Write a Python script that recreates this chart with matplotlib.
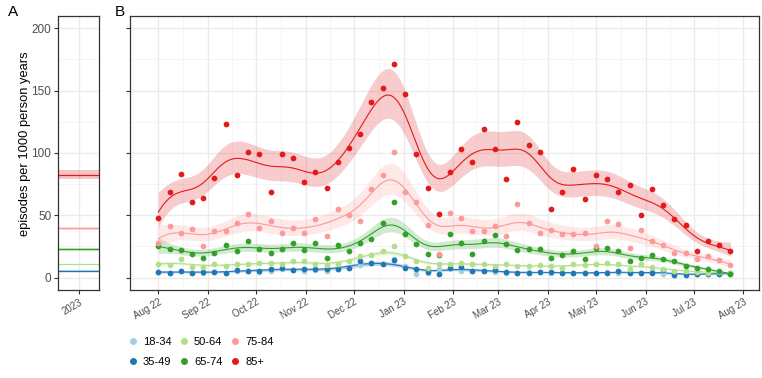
import numpy as np
import matplotlib
matplotlib.use("Agg")
import matplotlib.pyplot as plt
import matplotlib.dates as mdates
from matplotlib.lines import Line2D

plt.rcParams['font.family'] = ['Liberation Sans', 'DejaVu Sans']

# ---------------- data ----------------
groups = ["18-34", "35-49", "50-64", "65-74", "75-84", "85+"]
colors = ["#A6CEE3", "#1F78B4", "#B2DF8A", "#33A02C", "#FB9A99", "#E31A1C"]

first_week = "2022-08-01"
n_weeks = 52

rate_18_34 = [4.5, 3.5, 5, 4, 3.5, 4.5, 4, 5, 5, 4.5, 5.5, 6.5, 6, 5.5, 6, 5.5, 6.5, 7.5,
              10, 12, 11, 15, 9, 3, 3.5, 7, 7.5, 5, 5, 5.5, 4.5, 4, 4, 4.5, 4.5, 3.5,
              3.5, 3.5, 4, 4, 4.5, 4, 3.5, 4, 5, 2.5, 2.5, 2.5, 3, 3, 3, 3]
rate_35_49 = [4.5, 4, 5.3, 4, 4.3, 4.2, 4, 5.7, 5.6, 5.6, 6.5, 7.5, 6.4, 6.5, 6.5, 6.5, 7, 8,
              13.3, 11.5, 10.6, 14, 7.4, 6.6, 4.5, 3, 8, 8.3, 5.5, 5.5, 5.8, 4.2, 3.8, 3.6,
              4.5, 4.5, 4, 3.5, 3.5, 3.6, 3.8, 5.3, 4, 3.5, 4, 5.8, 2.1, 1.8, 2.6, 3, 3, 3.3]
rate_50_64 = [11, 10, 15, 8.5, 8.5, 10.5, 9, 11, 11, 11.5, 11.5, 11, 13, 13, 11, 10, 11, 13,
              17.5, 18, 21, 25, 17.5, 13, 8, 11, 11, 12, 10.5, 10.5, 9.5, 11, 9, 9, 10, 9,
              8, 10.5, 10, 11, 11.5, 10.5, 7, 10.5, 8.5, 7, 5.5, 5.5, 4.5, 4, 4.5, 3.4]
rate_65_74 = [25, 23, 22, 19, 16, 20, 26, 21, 29, 23, 20, 23, 28, 22, 28, 16, 26, 21, 28, 31,
              44, 61, 35, 27, 19, 18, 35, 28, 19, 29, 34, 27, 22, 23, 23, 16, 18, 21, 15, 24,
              24, 21, 13, 16, 18, 15, 13, 9, 8, 7, 5, 3]
rate_75_84 = [28, 41, 36, 39, 25, 37, 37, 44, 51, 40, 45, 36, 40, 36, 47, 33, 55, 50, 45, 71,
              82, 101, 69, 61, 42, 19, 52, 48, 37, 37, 41, 33, 59, 44, 36, 38, 35, 35, 36, 25,
              45, 43, 24, 38, 29, 26, 20, 20, 15, 17, 14, 10]
rate_85_plus = [48, 69, 83, 61, 64, 80, 123, 82, 101, 99, 69, 99, 96, 77, 85, 72, 93, 104,
                115, 141, 152, 171, 147, 99, 72, 51, 85, 103, 93, 119, 103, 79, 125, 106, 101,
                55, 69, 87, 63, 82, 79, 69, 74, 50, 71, 58, 47, 42, 21, 29, 26, 21]

annual_rate = [5.0, 5.4, 10.6, 22.6, 39.4, 82.6]
annual_lo = [4.6, 5.0, 10.0, 21.6, 38.0, 78.8]
annual_hi = [5.4, 5.8, 11.2, 23.6, 40.8, 86.6]
annual_label = "2023"

month_starts = ["2022-08-01", "2022-09-01", "2022-10-01", "2022-11-01", "2022-12-01",
                "2023-01-01", "2023-02-01", "2023-03-01", "2023-04-01", "2023-05-01",
                "2023-06-01", "2023-07-01", "2023-08-01"]
month_labels = ["Aug 22", "Sep 22", "Oct 22", "Nov 22", "Dec 22", "Jan 23", "Feb 23",
                "Mar 23", "Apr 23", "May 23", "Jun 23", "Jul 23", "Aug 23"]

series = [rate_18_34, rate_35_49, rate_50_64, rate_65_74, rate_75_84, rate_85_plus]


# ---------------- smoother (local linear, gaussian kernel) ----------------
def smooth(x, y, h=1.45, n=300):
    x = np.asarray(x, float)
    y = np.asarray(y, float)
    xs = np.linspace(x.min(), x.max(), n)
    fit = np.empty(n)
    l2 = np.empty(n)
    for k, x0 in enumerate(xs):
        w = np.exp(-0.5 * ((x - x0) / h) ** 2)
        X = np.column_stack([np.ones_like(x), x - x0])
        WX = X.T * w
        A = np.linalg.solve(WX @ X, WX)
        l = A[0]
        fit[k] = l @ y
        l2[k] = l @ l
    fit_at = np.interp(x, xs, fit)
    rel = np.log(y / fit_at)
    s = np.std(rel)
    half = 1.96 * s * np.sqrt(l2)
    return xs, fit, fit * np.exp(-half), fit * np.exp(half)


# ---------------- figure ----------------
W, H = 762, 378
fig = plt.figure(figsize=(W / 100, H / 100), dpi=100)

top_px, bot_px = 15.8, 290.0
axA = fig.add_axes([58.3 / W, 1 - bot_px / H, 41 / W, (bot_px - top_px) / H])
axB = fig.add_axes([129.7 / W, 1 - bot_px / H, (759.1 - 129.7) / W, (bot_px - top_px) / H])

grid_major = "#EBEBEB"
grid_minor = "#F4F4F4"
border = "#333333"
tick_col = "#4D4D4D"

ylim = (-10, 210)
yt_major = [0, 50, 100, 150, 200]
yt_minor = [25, 75, 125, 175]

for ax in (axA, axB):
    ax.set_ylim(*ylim)
    for yv in yt_minor:
        ax.axhline(yv, color=grid_minor, lw=0.6, zorder=0)
    for yv in yt_major:
        ax.axhline(yv, color=grid_major, lw=1.0, zorder=0)
    for sp in ax.spines.values():
        sp.set_color(border)
        sp.set_linewidth(0.9)
    ax.set_yticks(yt_major)
    ax.tick_params(axis='both', colors=border, length=3, width=0.8,
                   labelcolor=tick_col, pad=2)

# Panel A
axA.set_xlim(0, 1)
axA.axvline(0.5, color=grid_major, lw=1.0, zorder=0)
for i in range(len(groups)):
    axA.fill_between([0, 1], annual_lo[i], annual_hi[i], color=colors[i], alpha=0.25,
                     lw=0, zorder=1)
    axA.plot([0, 1], [annual_rate[i]] * 2, color=colors[i], lw=0.9, zorder=2)
axA.set_xticks([0.5])
axA.set_xticklabels([annual_label], rotation=30, ha='right', rotation_mode='anchor',
                    fontsize=7)
axA.set_yticklabels([str(v) for v in yt_major], fontsize=8.5)
fig.text(25 / W, 1 - 144 / H, "episodes per 1000 person years", rotation=90,
         ha='center', va='center', fontsize=9.3, color="black")

# Panel B
t0 = mdates.datestr2num(first_week)
wk = np.arange(n_weeks)
xd = t0 + 7 * wk
span = xd[-1] - xd[0]
axB.set_xlim(xd[0] - 0.05 * span, xd[-1] + 0.05 * span)

mt = np.array([mdates.datestr2num(m) for m in month_starts])
minor_x = list((mt[:-1] + mt[1:]) / 2) + [mt[0] - 15.5, mt[-1] + 15.5]
for xv in minor_x:
    axB.axvline(xv, color=grid_minor, lw=0.6, zorder=0)
for xv in mt:
    axB.axvline(xv, color=grid_major, lw=1.0, zorder=0)

for i, ys in enumerate(series):
    xs, fit, lo, hi = smooth(wk, ys)
    xsd = t0 + 7 * xs
    axB.fill_between(xsd, lo, hi, color=colors[i], alpha=0.22, lw=0, zorder=1)
    axB.plot(xsd, fit, color=colors[i], lw=0.8, zorder=2)
for i, ys in enumerate(series):
    axB.scatter(xd, ys, s=17, color=colors[i], lw=0, zorder=3)

axB.set_xticks(mt)
axB.set_xticklabels(month_labels, rotation=30, ha='right', rotation_mode='anchor',
                    fontsize=7)
axB.set_yticklabels([])

fig.text(8 / W, 1 - 12 / H, "A", fontsize=11, va='center', ha='left')
fig.text(115 / W, 1 - 12 / H, "B", fontsize=11, va='center', ha='left')

handles = [Line2D([], [], marker='o', ls='none', color=c, markersize=4) for c in colors]
fig.legend(handles, groups, loc='upper left', bbox_to_anchor=(126 / W, 1 - 337 / H),
           ncol=3, frameon=False, fontsize=8, handletextpad=0.3, columnspacing=0.55,
           labelspacing=0.9, handlelength=1.2, borderpad=0, borderaxespad=0)

fig.savefig("out.png", dpi=100)
